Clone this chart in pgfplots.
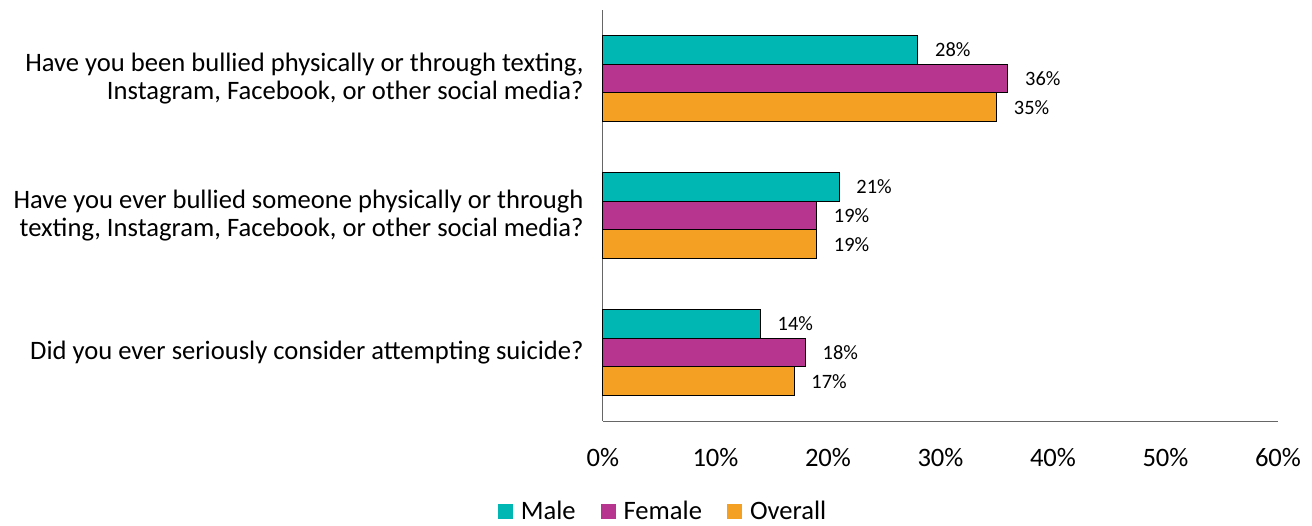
\documentclass[border=0pt]{standalone}
\usepackage{pgfplots}
\pgfplotsset{compat=1.18}
\usepackage{fontspec}
\setmainfont{Carlito}
\definecolor{cMale}{RGB}{0,183,180}
\definecolor{cFemale}{RGB}{184,53,143}
\definecolor{cOverall}{RGB}{244,161,35}
\begin{document}
\begin{tikzpicture}
\useasboundingbox (-301.5pt,-52pt) rectangle (354.5pt,210.5pt);
\begin{axis}[
  at={(0,0)}, anchor=south west,
  scale only axis,
  width=337.5pt, height=205.5pt,
  xbar, bar width=14.35pt,
  xmin=0, xmax=60, ymin=0.5, ymax=3.5,
  xtick={0,10,...,60},
  xticklabel={\pgfmathprintnumber{\tick}\%},
  /pgf/number format/assume math mode=true,
  ytick={1,2,3},
  yticklabels={Did you ever seriously consider attempting suicide?,
    {Have you ever bullied someone physically or through\\ texting, Instagram, Facebook, or other social media?},
    {Have you been bullied physically or through texting,\\ Instagram, Facebook, or other social media?}},
  yticklabel style={align=right, xshift=-6.2pt, font=\fontsize{13.3}{14}\selectfont},
  xticklabel style={font=\fontsize{13.3}{14}\selectfont, yshift=-10pt},
  major tick length=0pt,
  axis x line=bottom, axis y line=left,
  axis line style={draw=gray!80!black, line width=0.5pt, -},
  point meta=x,
  nodes near coords={\pgfmathprintnumber{\pgfplotspointmeta}\%},
  nodes near coords style={font=\fontsize{10.2}{12}\selectfont, anchor=west, xshift=5pt, text=black},
  legend style={at={(0.0905,-0.221)}, anchor=center, draw=none, legend columns=3,
    font=\fontsize{13.3}{14}\selectfont,
    /tikz/every even column/.append style={column sep=10.5pt}},
  legend image code/.code={\fill[#1, draw=none] (0pt,-3.75pt) rectangle (7.5pt,3.75pt); \path[draw=none, fill=none] (0pt,0pt) -- (9.5pt,0pt);},
  clip=false,
]
\addplot[fill=cMale, draw=black, line width=0.5pt, bar shift=14.35pt] coordinates {(28,3) (21,2) (14,1)};
\addplot[fill=cFemale, draw=black, line width=0.5pt, bar shift=0pt] coordinates {(36,3) (19,2) (18,1)};
\addplot[fill=cOverall, draw=black, line width=0.5pt, bar shift=-14.35pt] coordinates {(35,3) (19,2) (17,1)};
\legend{Male, Female, Overall}
\end{axis}
\end{tikzpicture}
\end{document}
